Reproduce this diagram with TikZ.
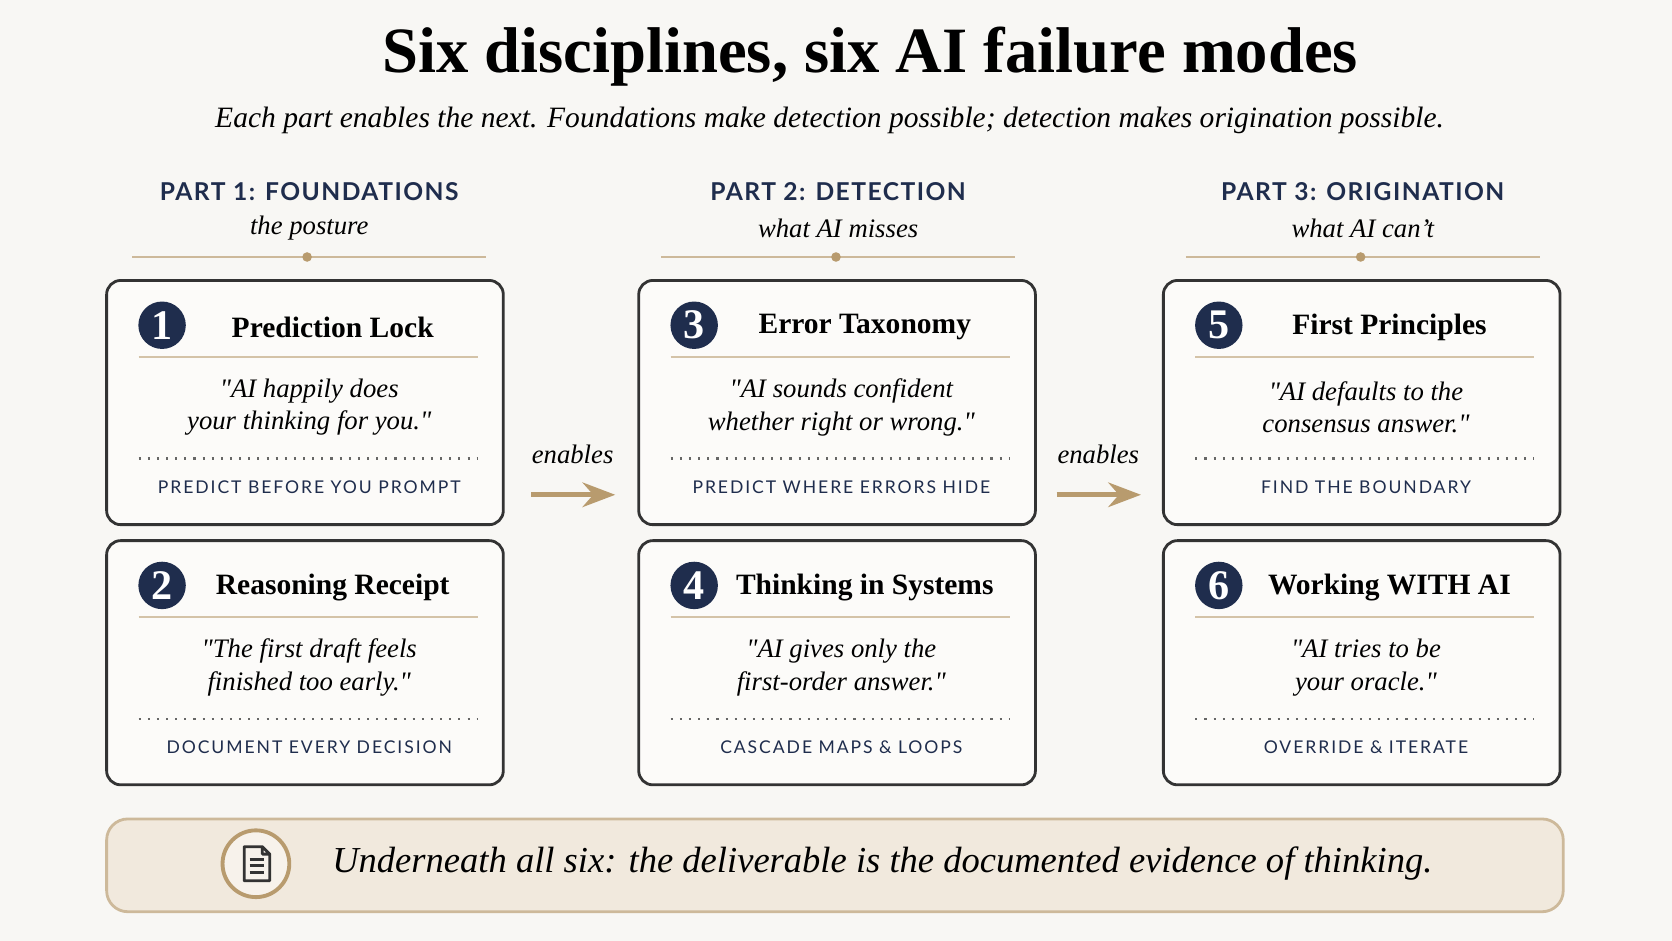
\documentclass[tikz,border=0pt]{standalone}
\usepackage{fontspec}
\setmainfont{Liberation Serif}[Ligatures=TeXOff]
\newfontfamily\capsf[LetterSpace=11]{Lato}
\newfontfamily\headsf[LetterSpace=6]{Lato Bold}
\usetikzlibrary{arrows.meta, positioning}
\definecolor{navy}{HTML}{1F2D4D}
\definecolor{gold}{HTML}{B89B6E}
\definecolor{paper}{HTML}{F8F7F4}
\definecolor{cardbg}{HTML}{FCFBF9}
\definecolor{beige}{HTML}{F1E9DD}

\begin{document}
\begin{tikzpicture}[x=0.010663cm, y=-0.010663cm, >=Stealth,
  card/.style={draw=black!80, line width=0.8pt, fill=cardbg, rounded corners=4pt},
  num/.style={circle, fill=navy, text=white, minimum size=13.5pt, inner sep=0pt, font=\bfseries\large},
  ttl/.style={font=\bfseries\fontsize{8.4}{10}\selectfont},
  quote/.style={font=\itshape\fontsize{7.6}{9.2}\selectfont, align=center},
  tag/.style={text=navy, font=\capsf\fontsize{5}{6}\selectfont},
  part/.style={text=navy, font=\headsf\fontsize{7}{8}\selectfont},
  sub/.style={font=\itshape\fontsize{7.6}{9}\selectfont}]

\useasboundingbox (0,0) rectangle (1568,882);
\fill[paper] (0,0) rectangle (1568,882);

\node (title) at (816,53) {\bfseries\fontsize{18.4}{21}\selectfont Six disciplines, six AI failure modes};
\node (subtitle) at (778,113) {\itshape\fontsize{8.4}{10}\selectfont Each part enables the next. Foundations make detection possible; detection makes origination possible.};

% column headers
\foreach \cx/\p/\s [count=\i] in {290/PART 1: FOUNDATIONS/the posture, 786/PART 2: DETECTION/what AI misses, 1278/PART 3: ORIGINATION/what AI can’t}{
  \node[part] (part\i) at (\cx,180) {\p};
  \node[sub] (sub\i) at (\cx,214) {\s};
  \draw[gold!70, line width=0.5pt] (\cx-166,241) -- (\cx+166,241);
  \fill[gold] (\cx-2,241) circle (4.5);
}

% cards
\foreach \x/\y/\n/\t/\qa/\qb/\g in {
  100/263/1/Prediction Lock/"AI happily does/your thinking for you."/PREDICT BEFORE YOU PROMPT,
  100/507/2/Reasoning Receipt/"The first draft feels/finished too early."/DOCUMENT EVERY DECISION,
  599/263/3/Error Taxonomy/"AI sounds confident/whether right or wrong."/PREDICT WHERE ERRORS HIDE,
  599/507/4/Thinking in Systems/"AI gives only the/first-order answer."/CASCADE MAPS \& LOOPS,
  1091/263/5/First Principles/"AI defaults to the/consensus answer."/FIND THE BOUNDARY,
  1091/507/6/Working WITH AI/"AI tries to be/your oracle."/OVERRIDE \& ITERATE}{
  \draw[card] (\x,\y) rectangle (\x+372,\y+229);
  \node[num] (n\n) at (\x+52,\y+42) {\n};
  \node[ttl] (t\n) at (\x+212,\y+44) {\t};
  \draw[gold!60, line width=0.6pt] (\x+30,\y+72) -- (\x+348,\y+72);
  \node[quote] (q\n) at (\x+190,\y+119) {\qa\\\qb};
  \draw[black!60, line width=0.6pt, dotted] (\x+30,\y+167) -- (\x+348,\y+167);
  \node[tag] (g\n) at (\x+190,\y+194) {\g};
}

% arrows between parts
\foreach \ax in {498, 991}{
  \node[sub] at (\ax+39,426) {enables};
  \draw[->, gold, line width=1.4pt] (\ax,464) -- (\ax+79,464);
}

% bottom note
\draw[gold!70, fill=beige, line width=0.8pt, rounded corners=6pt] (100,768) rectangle (1466,855);
\node[circle, draw=gold, line width=1.1pt, minimum size=19pt, inner sep=0pt, fill=beige!60] (icon) at (240,810) {};
\draw[black!80, line width=0.8pt, line join=round] (229,794) -- (246,794) -- (253,801) -- (253,826) -- (229,826) -- cycle
  (246,794) -- (246,801) -- (253,801);
\foreach \ly in {806,812,818} \draw[black!80, line width=0.8pt] (234,\ly) -- (248,\ly);
\node[anchor=west] (note) at (300,810) {\itshape\fontsize{10.4}{12}\selectfont Underneath all six: the deliverable is the documented evidence of thinking.};
\end{tikzpicture}
\end{document}
